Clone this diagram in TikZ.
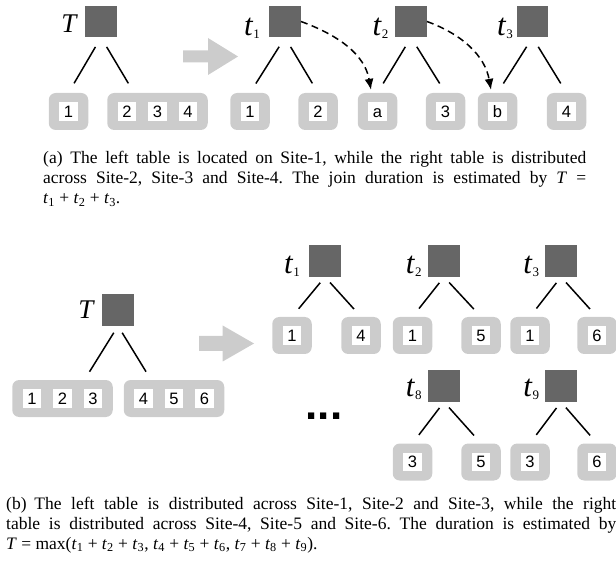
\documentclass[tikz,border=0pt]{standalone}
\usepackage{fontspec}
\setmainfont{Liberation Serif}
\setsansfont{Liberation Sans}
\usetikzlibrary{positioning, arrows.meta}

% one site of a table: white cell with its number
\newcommand{\cellbox}[1]{{\setlength{\fboxsep}{0pt}\colorbox{white}{\makebox[18.5pt]{\rule[-3.5pt]{0pt}{18.5pt}#1}}}}
\newcommand{\cgap}{\hspace{12pt}}
\newcommand{\tlab}[1]{\fontsize{31}{31}\selectfont\textit{t}\raisebox{-3pt}{\fontsize{13}{13}\selectfont #1}}
\newcommand{\ts}[1]{\textit{t}\textsubscript{#1}}

\tikzset{
cost/.style={fill=black!60, minimum size=31.5pt, inner sep=0pt}, % grey square of a join
site/.style={fill=black!20, rounded corners=7pt, inner xsep=10.5pt, inner ysep=9.25pt, font=\sffamily\fontsize{16.5}{16.5}\selectfont},
lbl/.style={inner sep=0pt, anchor=base east},
edgeA/.style={line width=1.5pt, shorten <=11pt, shorten >=11pt},
edgeB/.style={line width=1.5pt, shorten <=7.5pt, shorten >=10.5pt},
edgeC/.style={line width=1.5pt, shorten <=8pt, shorten >=9.5pt},
move/.style={line width=1.5pt, dash pattern=on 7pt off 4.5pt, -{Latex[length=11pt,width=9pt]}, shorten >=3pt},
bigarrow/.style={fill=black!20},
caption/.style={anchor=base west, inner sep=0pt, align=justify, font=\frenchspacing\fontsize{17.5}{20}\selectfont},
}

\begin{document}
\begin{tikzpicture}[x=1pt, y=1pt]
\useasboundingbox (0,0) rectangle (616,563);

% (a) one join, then three joins
\node[cost] (T) at (101,541.5) {};
\node[lbl, font=\fontsize{27}{27}\selectfont\itshape] (lT) at ([xshift=-8.5pt,yshift=5pt]T.south west) {T};
\node[site] (r1) at (68.5,451.5) {\cellbox{1}};
\node[site] (r234) at (157.5,451.5) {\cellbox{2}\cgap\cellbox{3}\cgap\cellbox{4}};
\draw[edgeA] (T.south) -- (r1.north);
\draw[edgeA] (T.south) -- ([xshift=-23.5pt]r234.north);

\fill[bigarrow] (183,500.5) -- (208,500.5) -- (208,488) -- (238,506.5) -- (208,525) -- (208,512.5) -- (183,512.5) -- cycle;

\node[cost] (t1) at (285,541.5) {};
\node[cost] (t2) at (411,541.5) {};
\node[cost] (t3) at (532.5,541.5) {};
\node[lbl] (lt1) at ([xshift=-9pt,yshift=1.5pt]t1.south west) {\tlab{1}};
\node[lbl] (lt2) at ([xshift=-6.5pt,yshift=1.5pt]t2.south west) {\tlab{2}};
\node[lbl] (lt3) at ([xshift=-3.5pt,yshift=1.5pt]t3.south west) {\tlab{3}};

\node[site] (s1) at (250,451.5) {\cellbox{1}};
\node[site] (s2) at (318,451.5) {\cellbox{2}};
\node[site] (sa) at (377.5,451.5) {\cellbox{a}};
\node[site] (s3) at (445.5,451.5) {\cellbox{3}};
\node[site] (sb) at (497.5,451.5) {\cellbox{b}};
\node[site] (s4) at (566.5,451.5) {\cellbox{4}};

\draw[edgeA] (t1.south) -- (s1.north);
\draw[edgeA] (t1.south) -- (s2.north);
\draw[edgeA] (t2.south) -- (sa.north);
\draw[edgeA] (t2.south) -- (s3.north);
\draw[edgeA] (t3.south) -- (sb.north);
\draw[edgeA] (t3.south) -- (s4.north);

\draw[move] (t1.east) to[out=-20, in=100] ([xshift=-6pt]sa.north);
\draw[move] (t2.east) to[out=-20, in=100] ([xshift=-6pt]sb.north);

\node[caption, text width=543pt] (capA) at (43,399) {(a)\hspace{0.45em}The left table is located on Site-1, while the right table is distributed\linebreak across Site-2, Site-3 and Site-4. The join duration is estimated by \textit{T} =\linebreak \ts{1} + \ts{2} + \ts{3}.};

% (b) nine joins
\node[cost] (B) at (118,253) {};
\node[lbl, font=\fontsize{27}{27}\selectfont\itshape] (lB) at ([xshift=-8.5pt,yshift=7.5pt]B.south west) {T};
\node[site] (l123) at (62.5,164.5) {\cellbox{1}\cgap\cellbox{2}\cgap\cellbox{3}};
\node[site] (l456) at (174,164.5) {\cellbox{4}\cgap\cellbox{5}\cgap\cellbox{6}};
\draw[edgeC] (B.south) -- ([xshift=22pt]l123.north);
\draw[edgeC] (B.south) -- ([xshift=-23pt]l456.north);

\fill[bigarrow] (199,212) -- (222.7,212) -- (222.7,201.5) -- (254,219.5) -- (222.7,237.5) -- (222.7,227) -- (199,227) -- cycle;

\node[cost] (u1) at (325,302) {};
\node[cost] (u2) at (444,302) {};
\node[cost] (u3) at (561,302) {};
\node[cost] (u8) at (444,177) {};
\node[cost] (u9) at (561,177) {};
\node[lbl] (lu1) at ([xshift=-9pt,yshift=3.5pt]u1.south west) {\tlab{1}};
\node[lbl] (lu2) at ([xshift=-6.3pt,yshift=3.5pt]u2.south west) {\tlab{2}};
\node[lbl] (lu3) at ([xshift=-5.7pt,yshift=3.5pt]u3.south west) {\tlab{3}};
\node[lbl] (lu8) at ([xshift=-6.3pt,yshift=5pt]u8.south west) {\tlab{8}};
\node[lbl] (lu9) at ([xshift=-5.7pt,yshift=5pt]u9.south west) {\tlab{9}};

\node[site] (u1l) at (292,227.5) {\cellbox{1}};
\node[site] (u1r) at (361,227.5) {\cellbox{4}};
\node[site] (u2l) at (412.5,227.5) {\cellbox{1}};
\node[site] (u2r) at (481,227.5) {\cellbox{5}};
\node[site] (u3l) at (530,227.5) {\cellbox{1}};
\node[site] (u3r) at (597,227.5) {\cellbox{6}};
\node[site] (u8l) at (412.5,101) {\cellbox{3}};
\node[site] (u8r) at (481,101) {\cellbox{5}};
\node[site] (u9l) at (530,101) {\cellbox{3}};
\node[site] (u9r) at (597,101) {\cellbox{6}};

\foreach \j in {1,2,3,8,9}{
  \draw[edgeB] (u\j.south) -- (u\j l.north);
  \draw[edgeB] (u\j.south) -- (u\j r.north);
}

\node[font=\sffamily\bfseries\fontsize{44}{44}\selectfont, inner sep=0pt] (dots) at (324,146.5) {...};

\node[caption, text width=610pt] (capB) at (6,54) {(b)\hspace{0.45em}The left table is distributed across Site-1, Site-2 and Site-3, while the right\linebreak table is distributed across Site-4, Site-5 and Site-6. The duration is estimated by\linebreak \textit{T} = max(\ts{1} + \ts{2} + \ts{3}, \ts{4} + \ts{5} + \ts{6}, \ts{7} + \ts{8} + \ts{9}).};

\end{tikzpicture}
\end{document}
